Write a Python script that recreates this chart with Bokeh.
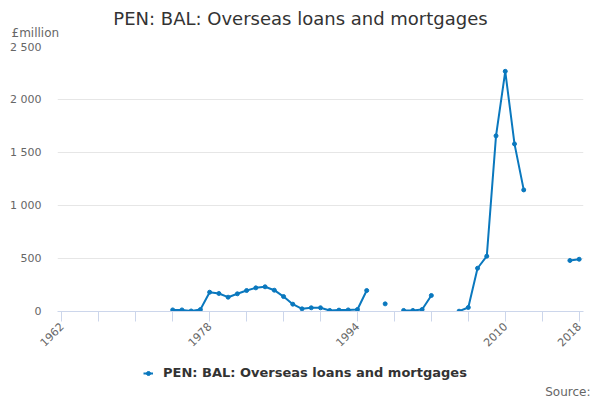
import math
import numpy as np
from bokeh.plotting import figure
from bokeh.layouts import column
from bokeh.models import (ColumnDataSource, FixedTicker, CustomJSTickFormatter,
                          Legend, LegendItem, Label, Range1d)
from bokeh.embed import file_html
from bokeh.resources import INLINE

# Annual series, £million (NaN = no figure published for that year)
years = list(range(1974, 2019))
values = [15, 15, 5, 18, 182, 170, 135, 167, 198, 223,
          233, 201, 141, 69, 25, 35, 35, 10, 13, 15,
          19, 198, np.nan, 72, np.nan, 10, 10, 19, 151, np.nan,
          np.nan, 3, 38, 408, 522, 1657, 2266, 1581, 1147, np.nan,
          np.nan, np.nan, np.nan, 481, 493]

x_ticks = list(range(1962, 2019, 4))
x_labelled = [1962, 1978, 1994, 2010, 2018]
y_ticks = [0, 500, 1000, 1500, 2000, 2500]

series_name = "PEN: BAL: Overseas loans and mortgages"
colour = "#0a78be"
font = "DejaVu Sans"


def blank_strip(height):
    """A figure with no axes, used to hold header / footer texts."""
    f = figure(width=600, height=height, output_backend="svg", toolbar_location=None,
               x_axis_type=None, y_axis_type=None,
               x_range=Range1d(0, 600), y_range=Range1d(0, height),
               min_border=0, min_border_left=0, min_border_right=0,
               min_border_top=0, min_border_bottom=0, frame_align=False)
    f.outline_line_color = None
    f.xgrid.visible = False
    f.ygrid.visible = False
    f.background_fill_color = "white"
    f.border_fill_color = "white"
    return f


# ---- header: title and unit note
header = blank_strip(40)
header.add_layout(Label(x=300, y=22, x_units="screen", y_units="screen",
                        text=series_name, text_font=font, text_font_size="18px",
                        text_color="#333333", text_align="center",
                        text_baseline="middle"))
header.add_layout(Label(x=11, y=8, x_units="screen", y_units="screen",
                        text="£million", text_font=font, text_font_size="12px",
                        text_color="#666666", text_align="left",
                        text_baseline="middle"))

# ---- main chart
source = ColumnDataSource(data=dict(year=years, value=values))

p = figure(frame_width=526, frame_height=265, output_backend="svg",
           toolbar_location=None, frame_align=False,
           x_range=(1961.53, 2018.47), y_range=(0, 2500),
           min_border_left=57, min_border_right=17,
           min_border_top=6, min_border_bottom=44)
p.outline_line_color = None
p.background_fill_color = "white"
p.border_fill_color = "white"

p.xaxis.ticker = FixedTicker(ticks=x_ticks)
p.xaxis.major_label_overrides = {t: (str(t) if t in x_labelled else "") for t in x_ticks}
p.xaxis.major_label_orientation = math.pi / 4
p.xaxis.major_label_standoff = 3
p.xaxis.axis_line_color = "#ccd6eb"
p.xaxis.major_tick_line_color = "#ccd6eb"
p.xaxis.major_tick_out = 10
p.xaxis.major_tick_in = 0
p.xaxis.minor_tick_line_color = None
p.xaxis.major_label_text_font = font
p.xaxis.major_label_text_font_size = "11px"
p.xaxis.major_label_text_color = "#666666"

p.yaxis.ticker = FixedTicker(ticks=y_ticks)
p.yaxis.formatter = CustomJSTickFormatter(
    code='return tick.toFixed(0).replace(/\\B(?=(\\d{3})+(?!\\d))/g, " ");')
p.yaxis.axis_line_color = None
p.yaxis.major_tick_line_color = None
p.yaxis.minor_tick_line_color = None
p.yaxis.major_label_standoff = 10
p.yaxis.major_label_text_font = font
p.yaxis.major_label_text_font_size = "11px"
p.yaxis.major_label_text_color = "#666666"

p.xgrid.grid_line_color = None
p.ygrid.grid_line_color = "#e6e6e6"
p.ygrid.ticker = FixedTicker(ticks=y_ticks)

p.line("year", "value", source=source, line_color=colour, line_width=2)
p.scatter("year", "value", source=source, size=4, fill_color=colour,
          line_color=colour)

# ---- footer: legend and source note
# the key renderers share the series source; the strip's own ranges keep
# them out of view, so only their legend swatch shows
footer = blank_strip(45)
key_line = footer.line("year", "value", source=source, line_color=colour, line_width=2)
key_dot = footer.scatter("year", "value", source=source, size=4,
                         fill_color=colour, line_color=colour)
legend = Legend(items=[LegendItem(label=series_name, renderers=[key_line, key_dot])],
                location=(143, 20), orientation="horizontal",
                border_line_color=None, background_fill_alpha=0,
                label_text_font=font, label_text_font_size="13px",
                label_text_font_style="bold", label_text_color="#333333",
                glyph_width=10, glyph_height=10, margin=0, padding=2,
                label_standoff=10)
footer.add_layout(legend)
footer.add_layout(Label(x=590, y=9, x_units="screen", y_units="screen",
                        text="Source:", text_font=font, text_font_size="12px",
                        text_color="#666666", text_align="right",
                        text_baseline="middle"))

open("out.html", "w").write(file_html(column(header, p, footer, spacing=0), INLINE))
